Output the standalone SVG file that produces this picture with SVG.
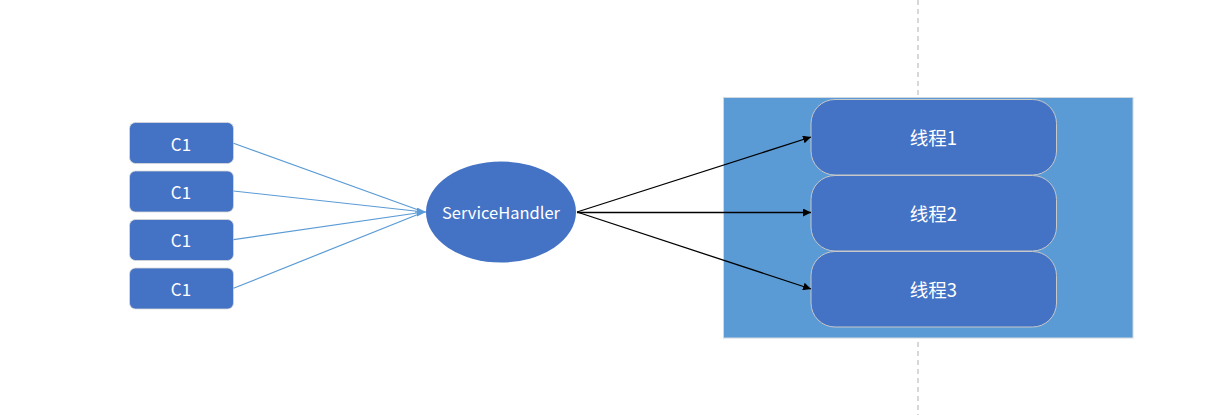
<svg xmlns="http://www.w3.org/2000/svg" width="1221" height="415" viewBox="0 0 1221 415">
<style>
.c1 { fill:#4472C4; stroke:#D9D9D9; stroke-width:0.8; }
.th { fill:#4472C4; stroke:#C8C8C8; stroke-width:1; }
.t { fill:#FFFFFF; font-family:"Noto Sans CJK SC","Liberation Sans",sans-serif; font-size:17px; text-anchor:middle; dominant-baseline:central; }
.tt { font-size:18.5px; }
.blue { stroke:#5B9BD5; stroke-width:1.2; fill:none; }
.blk { stroke:#000000; stroke-width:1.3; fill:none; marker-end:url(#ab); }
</style>
<defs>
<marker id="ab" viewBox="0 0 10 10" refX="10" refY="5" markerWidth="8" markerHeight="8" markerUnits="userSpaceOnUse" orient="auto">
<path d="M0,0 L10,5 L0,10 z" fill="#000"/>
</marker>
<marker id="abl" viewBox="0 0 10 10" refX="10" refY="5" markerWidth="9" markerHeight="9" markerUnits="userSpaceOnUse" orient="auto">
<path d="M0,0 L10,5 L0,10 z" fill="#5B9BD5"/>
</marker>
</defs>
<rect width="1221" height="415" fill="#FFFFFF"/>
<line x1="918" y1="0" x2="918" y2="415" stroke="#B0B0B0" stroke-width="1" stroke-dasharray="5,4"/>
<g id="container">
<rect x="723.5" y="97.5" width="409.5" height="240.5" fill="#5B9BD5" stroke="#D0D8E0" stroke-width="1"/>
</g>
<g id="c1-1"><rect class="c1" x="129.5" y="122.5" width="104" height="41" rx="6"/><text class="t" x="181" y="143">C1</text></g>
<g id="c1-2"><rect class="c1" x="129.5" y="171" width="104" height="41" rx="6"/><text class="t" x="181" y="191">C1</text></g>
<g id="c1-3"><rect class="c1" x="129.5" y="219.5" width="104" height="41" rx="6"/><text class="t" x="181" y="239.5">C1</text></g>
<g id="c1-4"><rect class="c1" x="129.5" y="268" width="104" height="41" rx="6"/><text class="t" x="181" y="288">C1</text></g>
<g id="servicehandler"><ellipse cx="501" cy="212" rx="75" ry="50.5" fill="#4472C4"/><text class="t" x="501" y="212" style="font-size:16.5px">ServiceHandler</text></g>
<g id="thread1"><rect class="th" x="811" y="99.5" width="245.5" height="75.5" rx="24"/><text class="t tt" x="933.5" y="137">线程1</text></g>
<g id="thread2"><rect class="th" x="811" y="175.5" width="245.5" height="75.5" rx="24"/><text class="t tt" x="933.5" y="213">线程2</text></g>
<g id="thread3"><rect class="th" x="811" y="251.5" width="245.5" height="75.5" rx="24"/><text class="t tt" x="933.5" y="289">线程3</text></g>
<g id="connectors">
<line class="blue" x1="233.5" y1="143.3" x2="424" y2="212"/>
<line class="blue" x1="233.5" y1="191" x2="424" y2="212"/>
<line class="blue" x1="233.5" y1="239.7" x2="424" y2="212"/>
<line class="blue" x1="233.5" y1="288.3" x2="424" y2="212"/>
<line class="blue" x1="415" y1="212" x2="426" y2="212" marker-end="url(#abl)"/>
<line class="blk" x1="577" y1="212" x2="811" y2="137"/>
<line class="blk" x1="577" y1="212.5" x2="811" y2="212.5"/>
<line class="blk" x1="577" y1="212" x2="811" y2="289"/>
</g>
</svg>
